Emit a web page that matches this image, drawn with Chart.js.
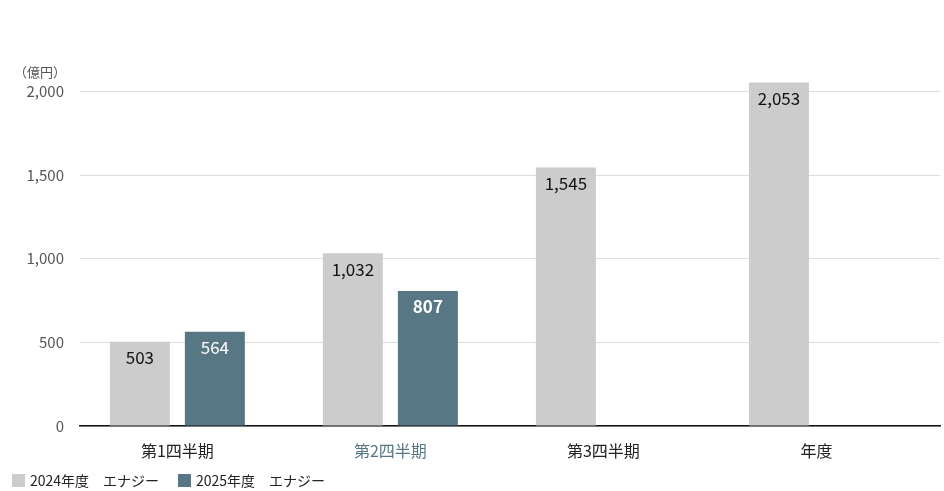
<!DOCTYPE html>
<html>
<head>
<meta charset="utf-8">
<script src="https://cdn.jsdelivr.net/npm/chart.js@4"></script>
<style>
  html, body { margin: 0; padding: 0; background: #fff; }
  #wrap { width: 944px; height: 491px; }
</style>
</head>
<body>
<div id="wrap"><canvas id="energy_chart"></canvas></div>
<script>
const categories = ['第1四半期', '第2四半期', '第3四半期', '年度'];
const energy2024 = [503, 1032, 1545, 2053];
const energy2025 = [564, 807];
const yTicks = [0, 500, 1000, 1500, 2000];
const seriesNames = ['2024年度　エナジー', '2025年度　エナジー'];

const GRAY = '#cccccc';
const TEAL = '#587784';
const FONT = "'Noto Sans CJK JP', 'Noto Sans', sans-serif";

// value labels inside the bars, unit label and legend
const barLabels = {
    id: 'barLabels',
    afterDatasetsDraw(chart) {
        const ctx = chart.ctx;
        ctx.save();
        ctx.textAlign = 'center';
        ctx.textBaseline = 'middle';
        chart.data.datasets.forEach((ds, di) => {
            chart.getDatasetMeta(di).data.forEach((bar, i) => {
                const v = ds.data[i].y;
                const bold = di === 1 && i === 1;
                ctx.font = (bold ? 'bold ' : '') + '17px ' + FONT;
                ctx.fillStyle = di === 1 ? '#ffffff' : '#111111';
                ctx.fillText(v.toLocaleString('en-US'), bar.x, bar.y + 16);
            });
        });

        ctx.font = '13px ' + FONT;
        ctx.fillStyle = '#555555';
        ctx.textAlign = 'right';
        ctx.fillText('（億円）', 66, 72);

        // legend along the bottom left
        ctx.textAlign = 'left';
        ctx.font = '14px ' + FONT;
        let x = 12;
        chart.data.datasets.forEach(ds => {
            ctx.fillStyle = ds.backgroundColor;
            ctx.fillRect(x, 474, 13, 13);
            ctx.fillStyle = '#222222';
            ctx.fillText(ds.label, x + 18, 481);
            x += 166;
        });
        ctx.restore();
    }
};

const energy_ctx = document.getElementById('energy_chart').getContext('2d');
const energy_chart = new Chart(energy_ctx, {
    type: 'bar',
    data: {
        datasets: [
            {
                label: seriesNames[0],
                backgroundColor: GRAY,
                borderWidth: 0,
                data: energy2024.map((v, i) => ({ x: i, y: v }))
            },
            {
                label: seriesNames[1],
                backgroundColor: TEAL,
                borderWidth: 0,
                data: energy2025.map((v, i) => ({ x: i, y: v }))
            },
        ]
    },
    options: {
        responsive: true,
        maintainAspectRatio: false,
        animation: false,
        categoryPercentage: 0.704,
        barPercentage: 0.8,
        layout: { padding: { top: 58, right: 4, left: 0, bottom: 25 } },
        scales: {
            x: {
                type: 'linear',
                offset: false,
                min: -0.457,
                max: 3.58,
                afterBuildTicks: axis => { axis.ticks = categories.map((c, i) => ({ value: i })); },
                afterFit: scale => { scale.height = 40; },
                grid: { display: false, drawTicks: false, offset: false },
                border: { color: '#111111', width: 1.5 },
                ticks: {
                    padding: 15,
                    autoSkip: false,
                    maxRotation: 0,
                    font: { family: FONT, size: 16 },
                    color: c => c.index === 1 ? TEAL : '#222222',
                    callback: v => categories[v]
                }
            },
            y: {
                min: 0,
                max: 2200,
                afterBuildTicks: axis => { axis.ticks = yTicks.map(v => ({ value: v })); },
                afterFit: scale => { scale.width = 80; },
                grid: { color: '#dddddd', drawTicks: false, lineWidth: 1 },
                border: { display: false },
                ticks: {
                    padding: 16,
                    font: { family: FONT, size: 15 },
                    color: '#555555',
                    callback: v => v.toLocaleString('en-US')
                }
            }
        },
        plugins: {
            tooltip: { enabled: false },
            legend: { display: false }
        }
    },
    plugins: [barLabels]
});
</script>
</body>
</html>
